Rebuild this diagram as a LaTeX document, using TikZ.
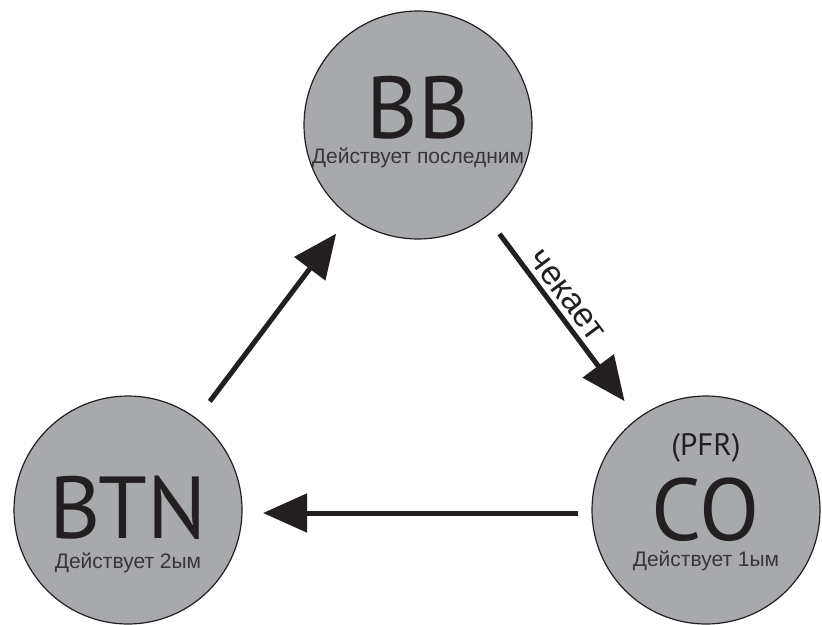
\documentclass[tikz,border=0pt]{standalone}
\usepackage{fontspec}
\setmainfont{Liberation Sans}
\newfontfamily\titlefont{PT Sans}
\usetikzlibrary{arrows.meta}
\definecolor{seatgray}{HTML}{A7A9AC}
\definecolor{inkblack}{HTML}{231F20}

\begin{document}
\begin{tikzpicture}[x=1pt, y=-1pt,
    seat/.style={draw=inkblack, line width=1.2pt, circle, fill=seatgray, minimum size=228pt, inner sep=0pt, outer sep=0pt},
    big/.style={anchor=base, inner sep=0pt, text=inkblack, font=\titlefont\fontsize{88pt}{90pt}\selectfont},
    small/.style={anchor=base, inner sep=0pt, text=inkblack!90, font=\fontsize{21pt}{23pt}\selectfont},
    move/.style={draw=inkblack, line width=5pt, -{Triangle[length=44pt, width=38pt]}, shorten <=22pt, shorten >=22pt}]
    \useasboundingbox (0,0) rectangle (822,624);

    %% positions
    \draw
    (418,125)node[seat](bb){}
    (128,510)node[seat](btn){}
    (706,510)node[seat](co){}
    ;

    %% texts
    \node[big] (bbname) at (418,138) {BB};
    \node[small] (bbnote) at (418,163) {Действует последним};
    \node[big] (btnname) at (128,538) {BTN};
    \node[small] (btnnote) at (128,568) {Действует 2ым};
    \node[big, font=\titlefont\fontsize{31pt}{33pt}\selectfont] (cotag) at (706,455) {(PFR)};
    \node[big] (coname) at (706,540) {CO};
    \node[small] (conote) at (706,566) {Действует 1ым};

    %% moves
    \draw[move] (btn) -- (bb);
    \draw[move] (bb) -- node[pos=0.44, sloped, above=5pt, inner sep=0pt, font=\fontsize{34pt}{36pt}\selectfont, text=inkblack](checks){чекает} (co);
    \draw[move, shorten <=14pt, shorten >=21pt] ([yshift=-3pt]co.west) -- ([yshift=-3pt]btn.east);
\end{tikzpicture}
\end{document}
